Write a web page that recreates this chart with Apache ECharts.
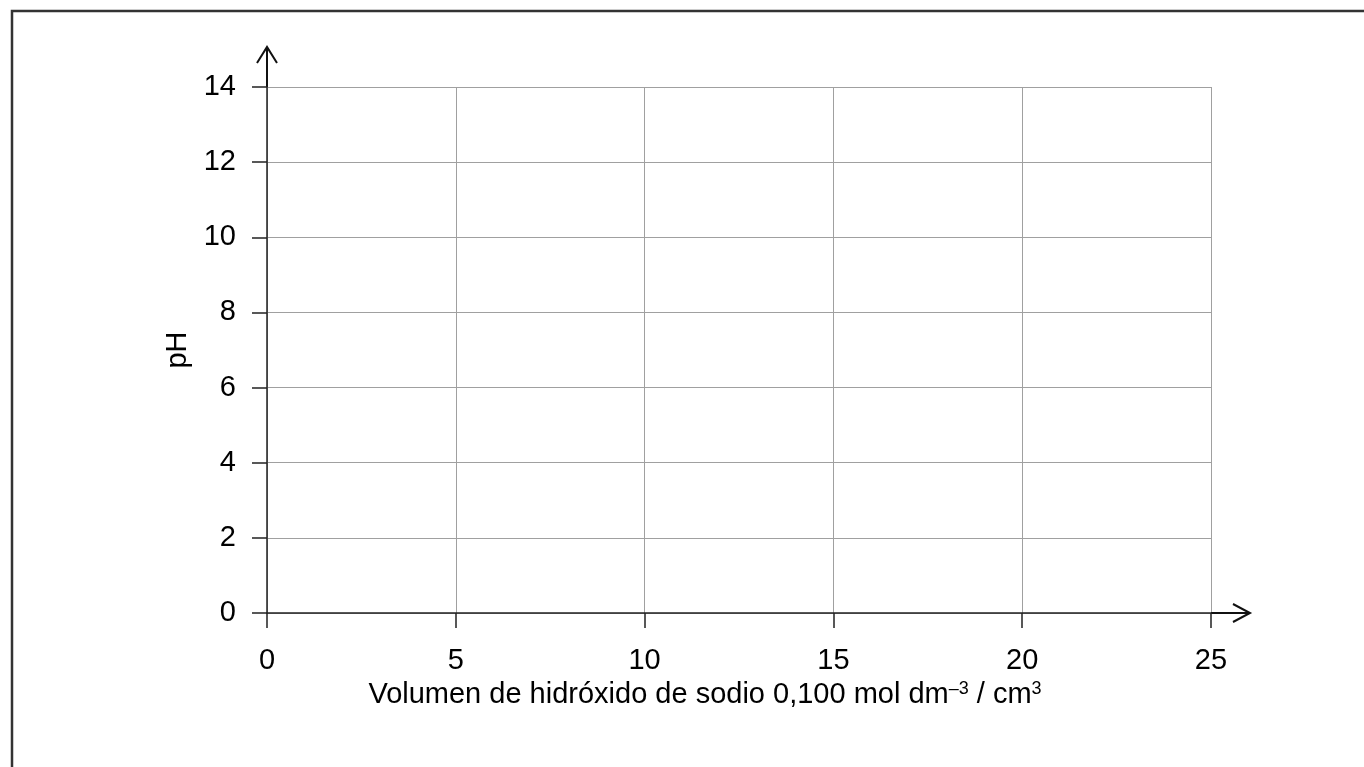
<!DOCTYPE html>
<html>
<head>
<meta charset="utf-8">
<script src="https://cdn.jsdelivr.net/npm/echarts@6/dist/echarts.min.js"></script>
<style>
html,body{margin:0;padding:0;background:#fff;}
#c{width:1364px;height:767px;}
</style>
</head>
<body>
<div id="c"></div>
<script>
// Data (empty grid: no series values in the reference)
const xTicks = [0, 5, 10, 15, 20, 25];
const yTicks = [0, 2, 4, 6, 8, 10, 12, 14];
const xName = 'Volumen de hidróxido de sodio 0,100 mol dm{sup|–3} / cm{sup|3}';
const yName = 'pH';

const chart = echarts.init(document.getElementById('c'));
const FONT = 'Liberation Sans, Arial, sans-serif';
const option = {
  animation: false,
  grid: {left: 267, right: 153, top: 87, bottom: 154, containLabel: false},
  xAxis: {
    type: 'value', min: xTicks[0], max: xTicks[xTicks.length - 1], interval: 5,
    axisLine: {show: true, lineStyle: {color: '#222', width: 1.5}},
    axisTick: {show: true, length: 15, lineStyle: {color: '#222', width: 1.5}},
    axisLabel: {color: '#000', fontSize: 29, fontFamily: FONT, margin: 33},
    splitLine: {show: true, lineStyle: {color: '#a0a0a0', width: 1}},
    name: xName, nameLocation: 'middle', nameGap: 67,
    nameTextStyle: {color: '#000', fontSize: 29, fontFamily: FONT, padding: [0, 68, 0, 0],
      rich: {sup: {fontSize: 18, verticalAlign: 'top', fontFamily: FONT, color: '#000', padding: [0,0,10,0]}}}
  },
  yAxis: {
    type: 'value', min: yTicks[0], max: yTicks[yTicks.length - 1], interval: 2,
    axisLine: {show: true, lineStyle: {color: '#222', width: 1.5}},
    axisTick: {show: true, length: 15, lineStyle: {color: '#222', width: 1.5}},
    axisLabel: {color: '#000', fontSize: 29, fontFamily: FONT, margin: 31},
    splitLine: {show: true, lineStyle: {color: '#a0a0a0', width: 1}},
    name: yName, nameLocation: 'middle', nameGap: 74, nameRotate: 90,
    nameTextStyle: {color: '#000', fontSize: 29, fontFamily: FONT}
  },
  series: [{type: 'line', data: []}]
};
chart.setOption(option);

const o = chart.convertToPixel({gridIndex: 0}, [xTicks[0], yTicks[0]]);
const xe = chart.convertToPixel({gridIndex: 0}, [xTicks[xTicks.length - 1], yTicks[0]]);
const ye = chart.convertToPixel({gridIndex: 0}, [xTicks[0], yTicks[yTicks.length - 1]]);
const xTip = xe[0] + 39, yTip = ye[1] - 40;
const ls = {stroke: '#111', lineWidth: 2, fill: null};
chart.setOption({
  graphic: [
    {type: 'polyline', shape: {points: [[12, 767], [12, 11], [1364, 11]]}, style: {stroke: '#333', lineWidth: 2.5, fill: null}},
    {type: 'line', shape: {x1: xe[0], y1: o[1], x2: xTip, y2: o[1]}, style: ls},
    {type: 'polyline', shape: {points: [[xTip - 17, o[1] - 9], [xTip, o[1]], [xTip - 17, o[1] + 9]]}, style: ls},
    {type: 'line', shape: {x1: o[0], y1: ye[1], x2: o[0], y2: yTip}, style: ls},
    {type: 'polyline', shape: {points: [[o[0] - 10, yTip + 16], [o[0], yTip], [o[0] + 10, yTip + 16]]}, style: ls}
  ]
});
</script>
</body>
</html>
